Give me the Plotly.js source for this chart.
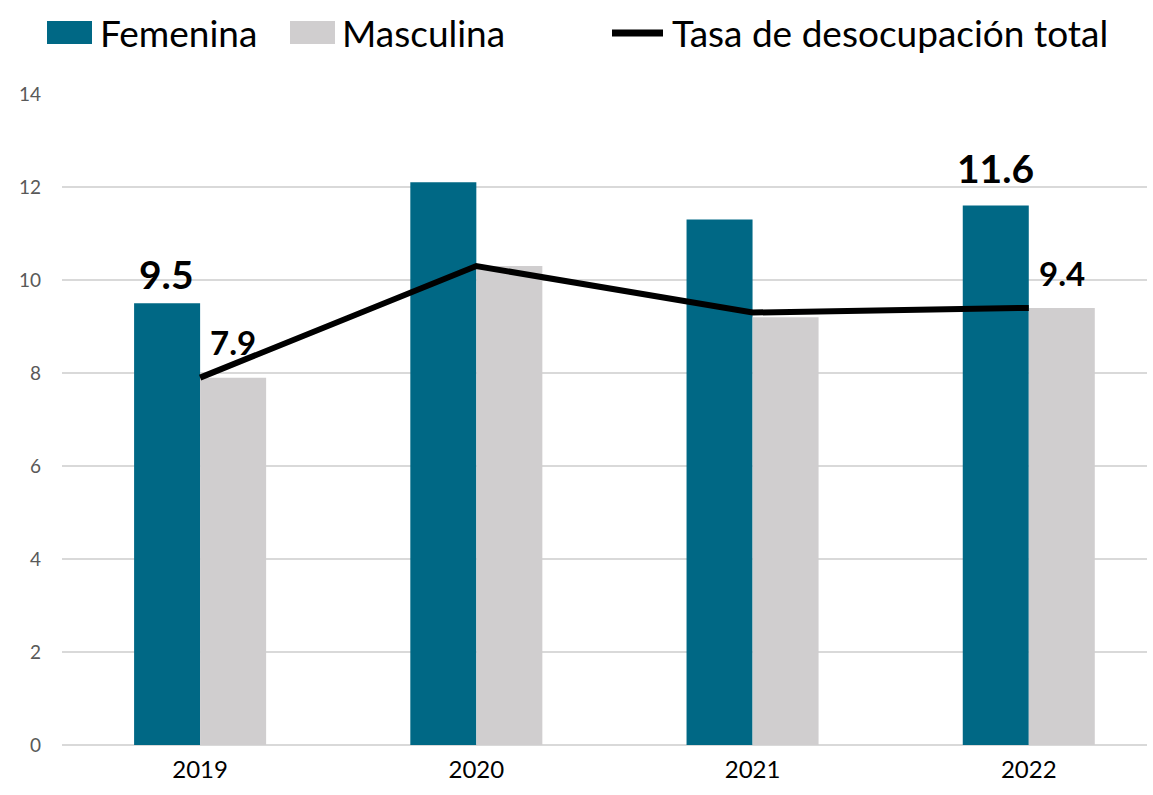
<!DOCTYPE html>
<html><head><meta charset="utf-8">
<script src="https://cdn.plot.ly/plotly-3.0.1.min.js"></script>
<style>html,body{margin:0;padding:0;background:#fff}#chart{width:1153px;height:795px}</style>
</head><body><div id="chart"></div>
<script>
const years = ['2019', '2020', '2021', '2022'];
const femenina = [9.5, 12.1, 11.3, 11.6];
const masculina = [7.9, 10.3, 9.2, 9.4];
const tasaTotal = [7.9, 10.3, 9.3, 9.4];
const yTicks = [0, 2, 4, 6, 8, 10, 12, 14];
const seriesNames = ['Femenina', 'Masculina', 'Tasa de desocupación total'];

const TEAL = '#006885', GRAY = '#D0CECF';
const FONT = 'Lato, "Open Sans", sans-serif';

const traces = [
  {type: 'bar', name: seriesNames[0], x: years, y: femenina, marker: {color: TEAL}, hoverinfo: 'skip'},
  {type: 'bar', name: seriesNames[1], x: years, y: masculina, marker: {color: GRAY}, hoverinfo: 'skip'},
  {type: 'scatter', mode: 'lines', name: seriesNames[2], x: years, y: tasaTotal,
   line: {color: '#000', width: 6}, hoverinfo: 'skip'}
];

// value labels: [series values, index, x offset within group, yshift, font size]
const labelSpecs = [
  [femenina, 0, -0.12, 4, 39],
  [masculina, 0, 0.12, 14, 33],
  [femenina, 3, -0.12, 13, 39],
  [masculina, 3, 0.12, 13, 33]
];
const annotations = labelSpecs.map(([arr, i, dx, ys, fs]) => ({
  xref: 'x', yref: 'y', x: i + dx, y: arr[i], text: '<b>' + arr[i].toFixed(1) + '</b>',
  showarrow: false, yanchor: 'bottom', xanchor: 'center', yshift: ys,
  font: {family: FONT, size: fs, color: '#000'}
}));

// custom legend (pixel offsets from the plot's top-left corner)
const legendItems = [
  {kind: 'rect', color: TEAL, x0: -15, x1: 30, textX: 36},
  {kind: 'rect', color: GRAY, x0: 228, x1: 273, textX: 278},
  {kind: 'line', color: '#000', x0: 550, x1: 601, textX: 608}
];
const shapes = [];
legendItems.forEach((it, k) => {
  if (it.kind === 'rect') {
    shapes.push({type: 'rect', xref: 'paper', yref: 'paper', xsizemode: 'pixel', ysizemode: 'pixel',
      xanchor: 0, yanchor: 1, x0: it.x0, x1: it.x1, y0: 50, y1: 73,
      fillcolor: it.color, line: {width: 0}});
  } else {
    shapes.push({type: 'line', xref: 'paper', yref: 'paper', xsizemode: 'pixel', ysizemode: 'pixel',
      xanchor: 0, yanchor: 1, x0: it.x0, x1: it.x1, y0: 61, y1: 61,
      line: {color: it.color, width: 7}});
  }
  annotations.push({xref: 'paper', yref: 'paper', x: 0, y: 1, xshift: it.textX, yshift: 62,
    xanchor: 'left', yanchor: 'middle', showarrow: false, text: seriesNames[k],
    font: {family: FONT, size: 37, color: '#000'}});
});

const layout = {
  width: 1153, height: 795,
  margin: {l: 62, r: 6, t: 94, b: 50, pad: 0},
  paper_bgcolor: '#fff', plot_bgcolor: '#fff',
  showlegend: false,
  barmode: 'group', bargap: 0.522, bargroupgap: 0,
  font: {family: FONT},
  xaxis: {type: 'category', range: [-0.5, 3.428], showgrid: false, zeroline: false,
    showline: false, ticks: '', tickfont: {family: FONT, size: 24, color: '#000'}, ticklabelstandoff: 8},
  yaxis: {range: [0, 14], tickvals: yTicks, showgrid: true, gridcolor: '#D9D9D9', gridwidth: 2,
    zeroline: true, zerolinecolor: '#D9D9D9', zerolinewidth: 2, showline: false, ticks: '',
    tickfont: {family: FONT, size: 19, color: '#595959'}, ticklabelstandoff: 20},
  shapes: shapes,
  annotations: annotations
};

Plotly.newPlot('chart', traces, layout, {staticPlot: true, displayModeBar: false});
</script>
</body></html>
